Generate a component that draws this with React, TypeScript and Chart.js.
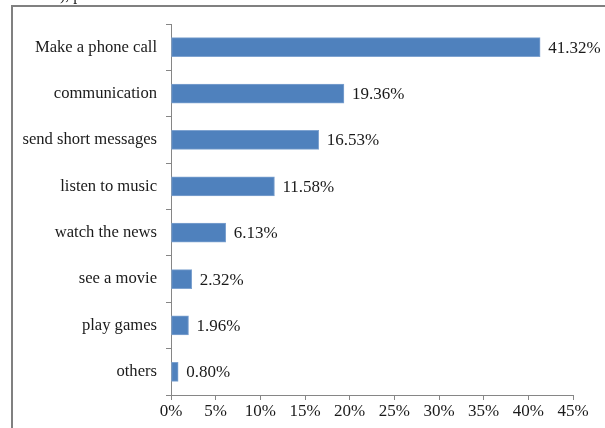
import React, { useEffect, useRef } from "react";
import { Chart, registerables } from "chart.js";

Chart.register(...registerables);

const categories = [
  "Make a phone call",
  "communication",
  "send short messages",
  "listen to music",
  "watch the news",
  "see a movie",
  "play games",
  "others",
];
const values = [41.32, 19.36, 16.53, 11.58, 6.13, 2.32, 1.96, 0.8];
const valueLabels = ["41.32%", "19.36%", "16.53%", "11.58%", "6.13%", "2.32%", "1.96%", "0.80%"];
const xTicks = [0, 5, 10, 15, 20, 25, 30, 35, 40, 45];

const FONT = "'Liberation Serif', 'Times New Roman', serif";

const framePlugin = {
  id: "frame",
  beforeDraw(chart: any) {
    const ctx = chart.ctx;
    ctx.save();
    ctx.fillStyle = "#fff";
    ctx.fillRect(0, 0, chart.width, chart.height);
    ctx.strokeStyle = "#808080";
    ctx.lineWidth = 2;
    ctx.beginPath();
    ctx.moveTo(12, chart.height + 5);
    ctx.lineTo(12, 6);
    ctx.lineTo(chart.width + 5, 6);
    ctx.stroke();
    ctx.fillStyle = "#222";
    ctx.font = `16px ${FONT}`;
    ctx.textBaseline = "alphabetic";
    ctx.textAlign = "left";
    ctx.fillText("), p", 60, 0);
    ctx.restore();
  },
};

const labelPlugin = {
  id: "valueLabels",
  afterDatasetsDraw(chart: any) {
    const ctx = chart.ctx;
    const meta = chart.getDatasetMeta(0);
    ctx.save();
    ctx.fillStyle = "#1a1a1a";
    ctx.font = `17px ${FONT}`;
    ctx.textAlign = "left";
    ctx.textBaseline = "middle";
    meta.data.forEach((bar: any, i: number) => {
      ctx.fillText(valueLabels[i], bar.x + 8, bar.y + 1);
    });
    ctx.restore();
  },
};

export default function App() {
  const ref = useRef<HTMLCanvasElement>(null);
  useEffect(() => {
    if (!ref.current) return;
    const chart = new Chart(ref.current, {
      type: "bar",
      data: {
        labels: categories,
        datasets: [
          {
            data: values,
            backgroundColor: "#4F81BD",
            borderColor: "#7FA3D0",
            borderWidth: 1,
            borderSkipped: false,
            barThickness: 19,
          },
        ],
      },
      options: {
        indexAxis: "y",
        animation: false,
        responsive: false,
        devicePixelRatio: 1,
        layout: { padding: { left: 0, right: 32, top: 24, bottom: 0 } },
        plugins: { legend: { display: false }, tooltip: { enabled: false } },
        scales: {
          x: {
            min: 0,
            max: 45,
            afterBuildTicks(scale: any) {
              scale.ticks = xTicks.map((v) => ({ value: v }));
            },
            afterFit(scale: any) {
              scale.height = 33;
            },
            ticks: {
              callback: (v: any) => `${v}%`,
              color: "#1a1a1a",
              font: { family: FONT, size: 17 },
              padding: 1,
              maxRotation: 0,
              autoSkip: false,
            },
            grid: {
              drawOnChartArea: false,
              drawTicks: true,
              tickLength: 5,
              color: "#868686",
            },
            border: { color: "#868686", width: 1 },
          },
          y: {
            afterFit(scale: any) {
              scale.width = 171;
            },
            ticks: {
              color: "#1a1a1a",
              font: { family: FONT, size: 16.6 },
              padding: 9,
            },
            grid: {
              offset: true,
              drawOnChartArea: false,
              drawTicks: true,
              tickLength: 5,
              color: "#868686",
            },
            border: { color: "#868686", width: 1 },
          },
        },
      },
      plugins: [framePlugin, labelPlugin],
    });
    return () => chart.destroy();
  }, []);
  return (
    <div style={{ position: "absolute", left: 0, top: 0, width: 605, height: 428 }}>
      <canvas ref={ref} width={605} height={428} style={{ display: "block" }} />
    </div>
  );
}
